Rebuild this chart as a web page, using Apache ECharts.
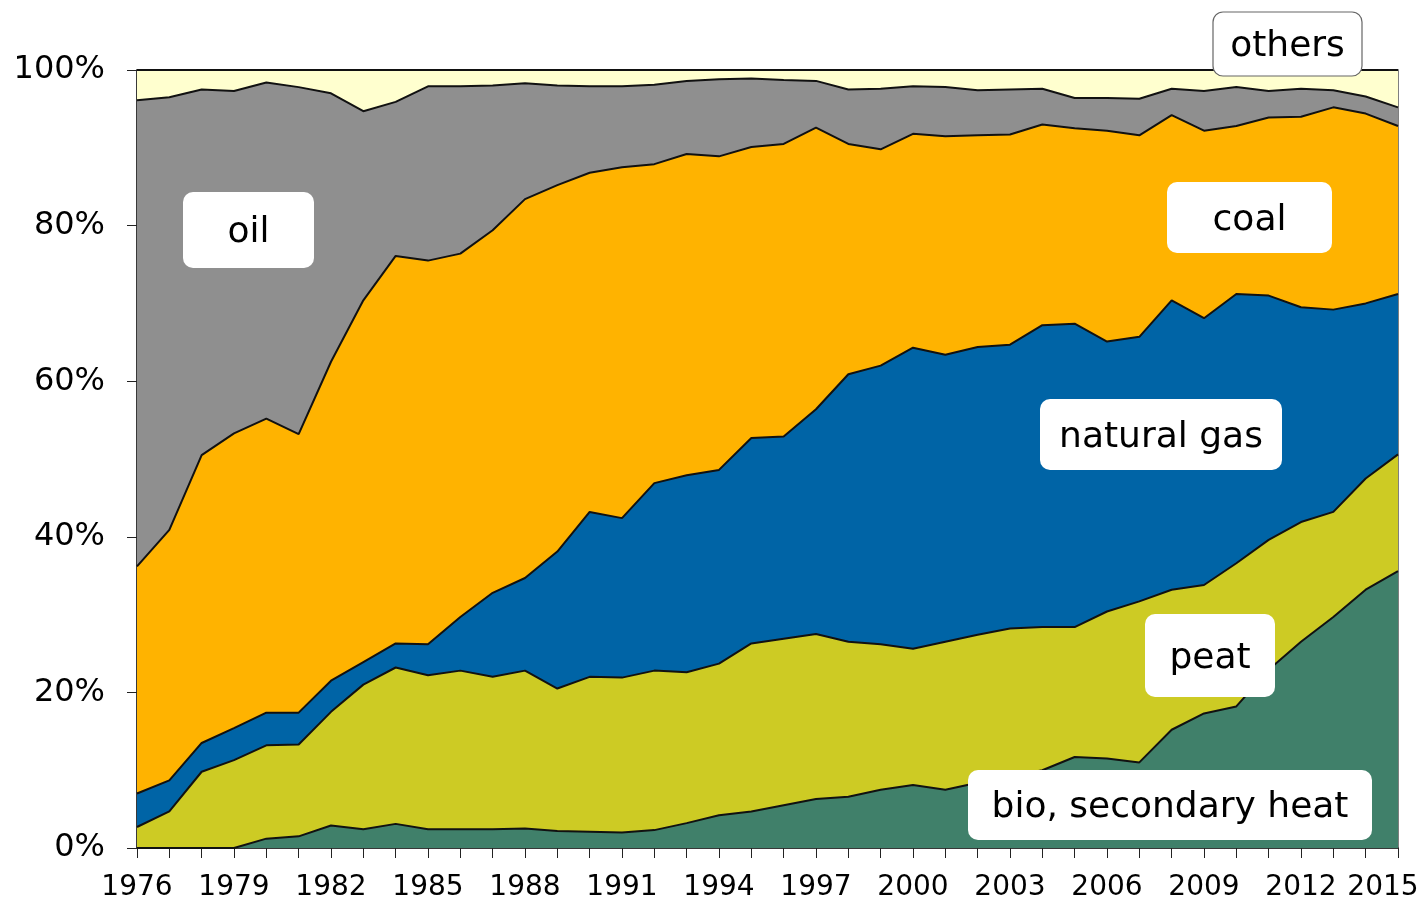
<!DOCTYPE html>
<html>
<head>
<meta charset="utf-8">
<script src="https://cdn.jsdelivr.net/npm/echarts@6/dist/echarts.min.js"></script>
<style>
  html, body { margin: 0; padding: 0; background: #fff; }
  #chart { width: 1423px; height: 901px; }
</style>
</head>
<body>
<div id="chart"></div>
<script>
const years = []
for (let y = 1976; y <= 2015; y++) years.push(String(y))

// shares in % (stack order bottom -> top)
const bio = [0, 0, 0, 0, 1.2, 1.5, 2.9, 2.4, 3.1, 2.4, 2.4, 2.4, 2.5, 2.2, 2.1, 2.0, 2.3, 3.2, 4.2, 4.7,
  5.5, 6.3, 6.6, 7.5, 8.1, 7.5, 8.4, 9.2, 10.0, 11.7, 11.5, 11.0, 15.2, 17.3, 18.2, 22.9, 26.5, 29.7, 33.2, 35.6]
const peat = [2.7, 4.7, 9.8, 11.3, 12.0, 11.8, 14.6, 18.6, 20.1, 19.8, 20.4, 19.6, 20.3, 18.3, 19.9, 19.9, 20.5, 19.4, 19.5, 21.6,
  21.4, 21.2, 19.9, 18.7, 17.5, 19.0, 19.0, 19.0, 18.4, 16.7, 18.9, 20.7, 18.0, 16.5, 18.4, 16.7, 15.4, 13.5, 14.3, 15.0]
const gas = [4.3, 4.0, 3.7, 4.1, 4.2, 4.1, 4.0, 2.9, 3.1, 4.0, 6.9, 10.8, 11.9, 17.6, 21.2, 20.5, 24.1, 25.3, 24.9, 26.4,
  26.0, 28.9, 34.4, 35.8, 38.7, 36.9, 37.0, 36.5, 38.8, 39.0, 34.7, 34.0, 37.2, 34.3, 34.6, 31.4, 27.6, 26.0, 22.5, 20.6]
const coal = [29.2, 32.2, 37.0, 37.9, 37.8, 35.8, 41.0, 46.5, 49.8, 49.3, 46.7, 46.6, 48.7, 47.1, 43.6, 45.1, 41.0, 41.3, 40.3, 37.4,
  37.6, 36.2, 29.6, 27.8, 27.5, 28.1, 27.2, 27.0, 25.8, 25.1, 27.1, 25.9, 23.8, 24.1, 21.6, 22.9, 24.5, 26.0, 24.4, 21.6]
const oil = [59.9, 55.6, 47.0, 44.0, 43.2, 44.6, 34.5, 24.3, 19.8, 22.4, 21.5, 18.6, 14.9, 12.8, 11.1, 10.4, 10.2, 9.4, 9.9, 8.8,
  8.2, 6.0, 7.0, 7.8, 6.1, 6.3, 5.8, 5.8, 4.6, 3.9, 4.2, 4.7, 3.4, 5.1, 5.0, 3.4, 3.6, 2.2, 2.2, 2.4]
const others = [3.9, 3.5, 2.5, 2.7, 1.6, 2.2, 3.0, 5.3, 4.1, 2.1, 2.1, 2.0, 1.7, 2.0, 2.1, 2.1, 1.9, 1.4, 1.2, 1.1,
  1.3, 1.4, 2.5, 2.4, 2.1, 2.2, 2.6, 2.5, 2.4, 3.6, 3.6, 3.7, 2.4, 2.7, 2.2, 2.7, 2.4, 2.6, 3.4, 4.8]

const font = 'DejaVu Sans, Verdana, sans-serif'

const layers = [
  { name: 'bio, secondary heat', data: bio, color: '#40806a' },
  { name: 'peat', data: peat, color: '#cdcb24' },
  { name: 'natural gas', data: gas, color: '#0064a6' },
  { name: 'coal', data: coal, color: '#ffb300' },
  { name: 'oil', data: oil, color: '#8f8f8f' },
  { name: 'others', data: others, color: '#ffffcf' },
]

// annotation boxes: [text, x, y, w, h, bordered]
const tags = [
  ['oil', 183, 192, 131, 76, false],
  ['others', 1213, 12, 149, 64, true],
  ['coal', 1167, 182, 165, 71, false],
  ['natural gas', 1040, 399, 242, 71, false],
  ['peat', 1145, 614, 130, 83, false],
  ['bio, secondary heat', 968, 770, 404, 70, false],
]

const chart = echarts.init(document.getElementById('chart'))

chart.setOption({
  animation: false,
  textStyle: { fontFamily: font },
  grid: {
    left: 137, right: 25, top: 70, bottom: 53,
    outerBoundsMode: 'none',
    show: true, borderColor: '#555', borderWidth: 1.5, backgroundColor: 'transparent',
  },
  xAxis: {
    type: 'category',
    data: years,
    boundaryGap: false,
    axisLine: { lineStyle: { color: '#222', width: 1.5 } },
    axisTick: { interval: 0, length: 10, lineStyle: { color: '#222' } },
    axisLabel: {
      interval: 2,
      margin: 26,
      color: '#000',
      fontSize: 28,
      fontFamily: font,
      formatter: (v) => (v === '2015' ? '{last|2015}' : v),
      rich: { last: { fontSize: 28, fontFamily: font, color: '#000', padding: [0, 30, 0, 0] } },
    },
  },
  yAxis: {
    type: 'value',
    min: 0,
    max: 100,
    interval: 20,
    axisLine: { show: true, lineStyle: { color: '#222', width: 1.5 } },
    axisTick: { show: true, length: 10, lineStyle: { color: '#222' } },
    splitLine: { show: false },
    axisLabel: { formatter: '{value}%', margin: 32, color: '#000', fontSize: 32, fontFamily: font },
  },
  series: layers.map((l) => ({
    name: l.name,
    type: 'line',
    stack: 'total',
    data: l.data,
    symbol: 'none',
    lineStyle: { color: '#111', width: 2 },
    areaStyle: { color: l.color, opacity: 1 },
  })),
  graphic: tags.map(([text, x, y, w, h, bordered]) => ({
    type: 'group',
    x,
    y,
    children: [
      {
        type: 'rect',
        z: 100,
        shape: { x: 0, y: 0, width: w, height: h, r: 10 },
        style: { fill: '#fff', stroke: bordered ? '#666' : null, lineWidth: 1.2 },
      },
      {
        type: 'text',
        z: 101,
        x: w / 2,
        y: h / 2 + 3,
        style: { text, fill: '#000', font: '36px ' + font, align: 'center', verticalAlign: 'middle' },
      },
    ],
  })),
})
</script>
</body>
</html>
